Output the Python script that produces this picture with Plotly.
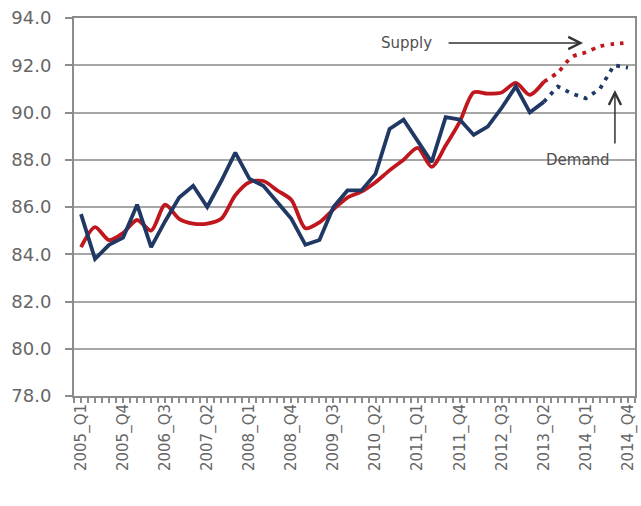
import plotly.graph_objects as go

quarters = [f"{y}_Q{q}" for y in range(2005, 2015) for q in range(1, 5)]

demand_actual = [85.7, 83.8, 84.4, 84.7, 86.1, 84.3, 85.4, 86.4, 86.9, 86.0,
                 87.1, 88.3, 87.2, 86.9, 86.2, 85.5, 84.4, 84.6, 86.0, 86.7,
                 86.7, 87.4, 89.3, 89.7, 88.8, 87.9, 89.8, 89.7, 89.05, 89.4,
                 90.2, 91.1, 90.0, 90.45]
demand_forecast = [91.1, 90.8, 90.6, 91.0, 92.0, 91.9]

supply_actual = [84.3, 85.15, 84.6, 84.9, 85.45, 85.0, 86.1, 85.5, 85.3, 85.3,
                 85.5, 86.5, 87.05, 87.1, 86.7, 86.3, 85.1, 85.35, 85.9, 86.4,
                 86.65, 87.05, 87.55, 88.0, 88.5, 87.7, 88.6, 89.6, 90.85, 90.8,
                 90.85, 91.25, 90.75, 91.3]
supply_forecast = [91.7, 92.35, 92.55, 92.8, 92.9, 92.95]

y_ticks = [78, 80, 82, 84, 86, 88, 90, 92, 94]

idx = list(range(len(quarters)))
n_act = len(demand_actual)

BLUE = "#1F3864"
RED = "#C0171E"
GRAY_TXT = "#666666"
FONT = "DejaVu Sans"

fig = go.Figure()

# Supply (smoothed)
fig.add_trace(go.Scatter(
    x=idx[:n_act], y=supply_actual, mode="lines",
    line=dict(color=RED, width=3.8, shape="spline", smoothing=0.8),
    showlegend=False, hoverinfo="skip"))
fig.add_trace(go.Scatter(
    x=idx[n_act - 1:], y=[supply_actual[-1]] + supply_forecast, mode="lines",
    line=dict(color=RED, width=3.8, dash="3.8px,6px", shape="spline", smoothing=0.8),
    showlegend=False, hoverinfo="skip"))

# Demand
fig.add_trace(go.Scatter(
    x=idx[:n_act], y=demand_actual, mode="lines",
    line=dict(color=BLUE, width=3.8),
    showlegend=False, hoverinfo="skip"))
fig.add_trace(go.Scatter(
    x=idx[n_act - 1:], y=[demand_actual[-1]] + demand_forecast, mode="lines",
    line=dict(color=BLUE, width=3.8, dash="3.8px,6px"),
    showlegend=False, hoverinfo="skip"))

ARROW = "#333333"
fig.add_annotation(x=35.8, y=92.94, ax=26.1, ay=92.94, xref="x", yref="y",
                   axref="x", ayref="y", text="", showarrow=True,
                   arrowhead=5, arrowsize=1.6, arrowwidth=1.5, arrowcolor=ARROW)
fig.add_annotation(x=23.2, y=92.94, xref="x", yref="y", text="Supply",
                   showarrow=False, font=dict(family=FONT, size=15, color="#505050"))
fig.add_annotation(x=38.07, y=90.95, ax=38.07, ay=88.62, xref="x", yref="y",
                   axref="x", ayref="y", text="", showarrow=True,
                   arrowhead=5, arrowsize=1.6, arrowwidth=1.5, arrowcolor=ARROW)
fig.add_annotation(x=35.4, y=87.99, xref="x", yref="y", text="Demand",
                   showarrow=False, font=dict(family=FONT, size=15, color="#505050"))

fig.update_layout(
    width=641, height=506,
    margin=dict(l=74, r=3, t=18, b=110),
    paper_bgcolor="white", plot_bgcolor="white",
    font=dict(family=FONT, color=GRAY_TXT),
)
fig.update_xaxes(
    range=[-0.5, len(quarters) - 0.5],
    tickmode="array", tickvals=idx[::3], ticktext=quarters[::3],
    tickangle=-90, ticks="", tickfont=dict(size=15, color=GRAY_TXT),
    showgrid=False, zeroline=False,
    showline=True, linecolor="#8C8C8C", linewidth=2, mirror=True,
    minor=dict(tick0=-0.5, dtick=0.5, ticks="outside", ticklen=5,
               tickcolor="#8C8C8C", tickwidth=1.5, showgrid=False),
)
fig.update_yaxes(
    range=[78, 94], tickmode="array", tickvals=y_ticks,
    ticktext=[f"{v:.1f}" for v in y_ticks],
    ticks="outside", ticklen=7, tickcolor="#8C8C8C", tickwidth=1.5,
    ticklabelstandoff=10,
    tickfont=dict(size=18, color=GRAY_TXT),
    showgrid=True, gridcolor="#A6A6A6", gridwidth=2, zeroline=False,
    showline=True, linecolor="#8C8C8C", linewidth=2, mirror=True,
)

fig.write_html("out.html")
